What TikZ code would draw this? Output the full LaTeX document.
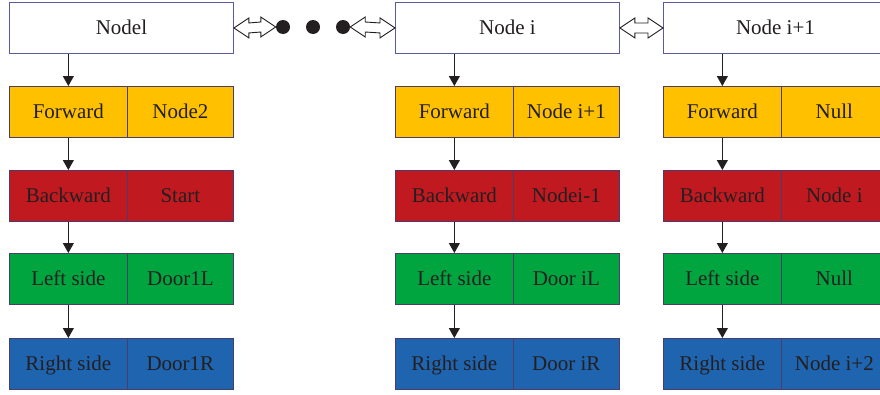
\documentclass[tikz,border=0pt]{standalone}
\usepackage{fontspec}
\setmainfont{Liberation Serif}
\usetikzlibrary{arrows.meta,calc}
\definecolor{cyel}{RGB}{255,192,0}
\definecolor{cred}{RGB}{192,26,32}
\definecolor{cgrn}{RGB}{0,165,64}
\definecolor{cblu}{RGB}{31,100,175}
\definecolor{hdrline}{RGB}{90,92,160}
\definecolor{cellline}{RGB}{75,60,110}
\definecolor{txt}{RGB}{35,31,32}
\newcommand{\dblarr}[2]{\draw[dblstyle] let \p1=(#1), \p2=(#2) in
  (\x1,\y1) -- (\x1+15pt,\y1+10pt) -- (\x1+15pt,\y1+5pt) -- (\x2-15pt,\y2+5pt) -- (\x2-15pt,\y2+10pt)
  -- (\x2,\y2) -- (\x2-15pt,\y2-10pt) -- (\x2-15pt,\y2-5pt) -- (\x1+15pt,\y1-5pt) -- (\x1+15pt,\y1-10pt) -- cycle;}
\begin{document}
\begin{tikzpicture}[x=1pt,y=-1pt,
  font=\fontsize{21}{24}\selectfont,
  base/.style={inner sep=0pt, anchor=north west, text=txt, text height=15pt, text depth=1pt},
  hdr/.style={base, draw=hdrline, line width=0.9pt, fill=white, minimum width=224pt, minimum height=51pt},
  lc/.style={base, draw=cellline, line width=0.7pt, minimum width=118pt, minimum height=51pt},
  rc/.style={lc, minimum width=106pt},
  varr/.style={draw=txt, line width=1pt, -{Triangle[width=11pt,length=10pt]}},
  dblstyle/.style={draw=txt, line width=0.9pt, fill=white, line join=miter},
  dot/.style={circle, fill=txt, minimum size=14pt, inner sep=0pt}]
\clip (0,0) rectangle (880,394);
\fill[white] (0,0) rectangle (880,394);
% headers
\node[hdr] (h1) at (9,2) {Nodel};
\node[hdr] (h2) at (395,2) {Node i};
\node[hdr] (h3) at (663,2) {Node i+1};
% column 1
\node[lc, fill=cyel] (f1L) at (9,86) {Forward};
\node[rc, fill=cyel] (f1R) at (127,86) {Node2};
\node[lc, fill=cred] (b1L) at (9,170) {Backward};
\node[rc, fill=cred] (b1R) at (127,170) {Start};
\node[lc, fill=cgrn] (l1L) at (9,253) {Left side};
\node[rc, fill=cgrn] (l1R) at (127,253) {Door1L};
\node[lc, fill=cblu] (r1L) at (9,338) {Right side};
\node[rc, fill=cblu] (r1R) at (127,338) {Door1R};
% column 2
\node[lc, fill=cyel] (f2L) at (395,86) {Forward};
\node[rc, fill=cyel] (f2R) at (513,86) {Node i+1};
\node[lc, fill=cred] (b2L) at (395,170) {Backward};
\node[rc, fill=cred] (b2R) at (513,170) {Nodei-1};
\node[lc, fill=cgrn] (l2L) at (395,253) {Left side};
\node[rc, fill=cgrn] (l2R) at (513,253) {Door iL};
\node[lc, fill=cblu] (r2L) at (395,338) {Right side};
\node[rc, fill=cblu] (r2R) at (513,338) {Door iR};
% column 3
\node[lc, fill=cyel] (f3L) at (663,86) {Forward};
\node[rc, fill=cyel] (f3R) at (781,86) {Null};
\node[lc, fill=cred] (b3L) at (663,170) {Backward};
\node[rc, fill=cred] (b3R) at (781,170) {Node i};
\node[lc, fill=cgrn] (l3L) at (663,253) {Left side};
\node[rc, fill=cgrn] (l3R) at (781,253) {Null};
\node[lc, fill=cblu] (r3L) at (663,338) {Right side};
\node[rc, fill=cblu] (r3R) at (781,338) {Node i+2};
% vertical arrows
\foreach \c in {1,2,3}{
  \draw[varr] (f\c L.north |- h\c.south) -- (f\c L.north);
  \draw[varr] (f\c L.south) -- (b\c L.north);
  \draw[varr] (b\c L.south) -- (l\c L.north);
  \draw[varr] (l\c L.south) -- (r\c L.north);
}
% dots
\node[dot] (d1) at (283,27) {};
\node[dot] (d2) at (313,27) {};
\node[dot] (d3) at (343,27) {};
% double arrows
\dblarr{h1.east}{d1.west}
\dblarr{d3.east}{h2.west}
\dblarr{h2.east}{h3.west}
\end{tikzpicture}
\end{document}
